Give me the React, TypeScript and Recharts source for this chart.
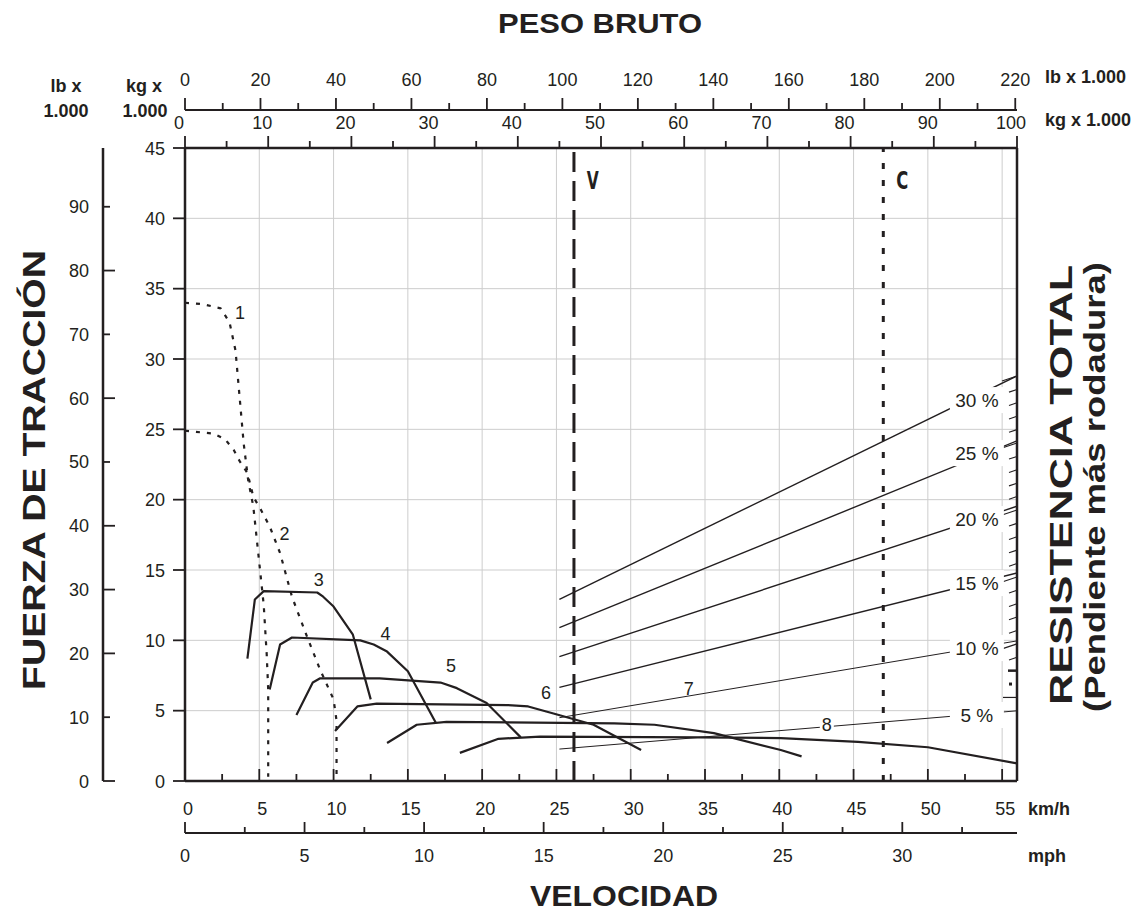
import { LineChart, Line, XAxis, YAxis, CartesianGrid, ReferenceLine, ReferenceDot } from "recharts";

const INK = "#231f20";
const FONT = "'Liberation Sans', Arial, Helvetica, sans-serif";
const NARROW = "'Liberation Sans Narrow', 'DejaVu Sans Condensed', sans-serif";

// speed v in km/h, rimpull f in kg x 1.000
const gear1 = [
  { v: 0, f: 34.0 }, { v: 1.2, f: 33.9 }, { v: 2.4, f: 33.6 }, { v: 3.0, f: 32.6 },
  { v: 3.4, f: 30.6 }, { v: 3.7, f: 27.0 }, { v: 3.95, f: 24.0 }, { v: 4.25, f: 21.4 },
  { v: 4.6, f: 19.5 }, { v: 5.0, f: 15.5 }, { v: 5.3, f: 12.5 }, { v: 5.5, f: 9.0 },
  { v: 5.6, f: 6.5 }, { v: 5.6, f: 0.3 },
];
const gear2 = [
  { v: 0, f: 24.9 }, { v: 1.9, f: 24.7 }, { v: 2.7, f: 24.3 }, { v: 3.3, f: 23.5 },
  { v: 3.7, f: 22.7 }, { v: 4.2, f: 21.9 }, { v: 4.6, f: 20.2 }, { v: 5.1, f: 19.3 },
  { v: 5.7, f: 18.1 }, { v: 6.4, f: 16.2 }, { v: 7.2, f: 13.1 }, { v: 8.2, f: 10.3 },
  { v: 9.1, f: 7.9 }, { v: 10.0, f: 5.8 }, { v: 10.2, f: 4.3 }, { v: 10.2, f: 0.2 },
];
const gear3 = [
  { v: 4.2, f: 8.7 }, { v: 4.7, f: 12.9 }, { v: 5.3, f: 13.5 }, { v: 8.9, f: 13.4 },
  { v: 9.3, f: 13.1 }, { v: 10.0, f: 12.4 }, { v: 11.3, f: 10.4 }, { v: 12.5, f: 5.8 },
];
const gear4 = [
  { v: 5.7, f: 6.5 }, { v: 6.4, f: 9.7 }, { v: 7.2, f: 10.2 }, { v: 11.8, f: 10.0 },
  { v: 12.7, f: 9.7 }, { v: 13.6, f: 9.2 }, { v: 15.0, f: 7.8 }, { v: 16.9, f: 4.1 },
];
const gear5 = [
  { v: 7.5, f: 4.7 }, { v: 8.6, f: 7.0 }, { v: 9.1, f: 7.3 }, { v: 13.1, f: 7.3 },
  { v: 17.2, f: 7.0 }, { v: 18.3, f: 6.6 }, { v: 20.3, f: 5.55 }, { v: 22.6, f: 3.1 },
];
const gear6 = [
  { v: 10.1, f: 3.55 }, { v: 11.6, f: 5.3 }, { v: 12.9, f: 5.5 }, { v: 21.7, f: 5.4 },
  { v: 23.1, f: 5.3 }, { v: 24.8, f: 4.8 }, { v: 27.5, f: 4.0 }, { v: 30.7, f: 2.2 },
];
const gear7 = [
  { v: 13.6, f: 2.7 }, { v: 15.6, f: 4.0 }, { v: 17.6, f: 4.2 }, { v: 28.9, f: 4.1 },
  { v: 31.6, f: 4.0 }, { v: 35.6, f: 3.4 }, { v: 40.1, f: 2.2 }, { v: 41.5, f: 1.75 },
];
const gear8 = [
  { v: 18.5, f: 2.0 }, { v: 21.1, f: 3.0 }, { v: 23.9, f: 3.15 }, { v: 34.7, f: 3.1 },
  { v: 40.1, f: 3.05 }, { v: 45.3, f: 2.78 }, { v: 50.0, f: 2.4 }, { v: 56, f: 1.25 },
];

const gearCurves = [
  { id: "1", data: gear1, dotted: true },
  { id: "2", data: gear2, dotted: true },
  { id: "3", data: gear3, dotted: false },
  { id: "4", data: gear4, dotted: false },
  { id: "5", data: gear5, dotted: false },
  { id: "6", data: gear6, dotted: false },
  { id: "7", data: gear7, dotted: false },
  { id: "8", data: gear8, dotted: false },
];

// gear number labels
const curveLabelText = ["1", "2", "3", "4", "5", "6", "7", "8"];
const curveLabelSpeed = [3.7, 6.7, 9.0, 13.5, 17.9, 24.3, 33.9, 43.2];
const curveLabelForce = [33.3, 17.6, 14.3, 10.5, 8.2, 6.3, 6.6, 4.05];

// total resistance (grade + rolling) lines
const grades = [5, 10, 15, 20, 25, 30];
const gradeSpeeds = [25.2, 56];
const gradeStart = [2.27, 4.5, 6.66, 8.84, 10.9, 12.91];
const gradeEnd = [4.99, 9.96, 14.79, 19.53, 24.18, 28.8];
const gradeLabelSpeed = 53.3;
const gradeLabelForce = [4.69, 9.45, 14.07, 18.62, 23.31, 27.08];

// V and C marks (km/h)
const markNames = ["V", "C"];
const markSpeeds = [26.18, 47.0];

// axis ranges and ticks
const kmhMax = 56;
const mphMax = 56 / 1.609344;
const kgMax = 100;
const lbMax = 100 * 2.20462;
const tonMax = 45;
const lbfMax = 45 * 2.20462;
const kmhTicks = [0, 2.5, 5, 7.5, 10, 12.5, 15, 17.5, 20, 22.5, 25, 27.5, 30, 32.5, 35, 37.5, 40, 42.5, 45, 47.5, 50, 52.5, 55];
const mphTicks = [0, 2.5, 5, 7.5, 10, 12.5, 15, 17.5, 20, 22.5, 25, 27.5, 30, 32.5];
const kgTicks = [0, 5, 10, 15, 20, 25, 30, 35, 40, 45, 50, 55, 60, 65, 70, 75, 80, 85, 90, 95, 100];
const lbTicks = [0, 10, 20, 30, 40, 50, 60, 70, 80, 90, 100, 110, 120, 130, 140, 150, 160, 170, 180, 190, 200, 210, 220];
const tonTicks = [0, 5, 10, 15, 20, 25, 30, 35, 40, 45];
const lbfTicks = [0, 10, 20, 30, 40, 50, 60, 70, 80, 90];
const gradeTicks = [6, 7, 8, 9, 10, 11, 12, 13, 14, 15, 16, 17, 18, 19, 20, 21, 22, 23, 24, 25, 26, 27, 28, 29, 30];
const gridSpeeds = [0, 5, 10, 15, 20, 25, 30, 35, 40, 45, 50, 55];

const resistanceLines = grades.map((g, i) => ({
  grade: g,
  data: [
    { v: gradeSpeeds[0], f: gradeStart[i] },
    { v: gradeSpeeds[1], f: gradeEnd[i] },
  ],
}));

// invisible spans so that every secondary axis carries data
const axisSpans = [
  { id: "xb", data: [{ v: 0, f: 0 }, { v: mphMax, f: 0 }] },
  { id: "xc", data: [{ v: 0, f: 0 }, { v: kgMax, f: 0 }] },
  { id: "xd", data: [{ v: 0, f: 0 }, { v: lbMax, f: 0 }] },
  { id: "xz", data: [{ v: 0, f: 0 }, { v: kmhMax, f: 0 }] },
];

const KmhTick = ({ x, y, payload }: any) => {
  const major = payload.value % 5 === 0;
  return (
    <g>
      <line x1={x} x2={x} y1={y} y2={y - (major ? 12 : 7)} stroke={INK} strokeWidth={1.8} />
      {major && (
        <text x={x + 3} y={y + 34} textAnchor="middle" fontSize={18} fill={INK}>{payload.value}</text>
      )}
    </g>
  );
};

const MphTick = ({ x, y, payload }: any) => {
  const major = payload.value % 5 === 0;
  return (
    <g>
      <line x1={x} x2={x} y1={y} y2={y - (major ? 11 : 6)} stroke={INK} strokeWidth={1.8} />
      {major && (
        <text x={x} y={y + 29} textAnchor="middle" fontSize={18} fill={INK}>{payload.value}</text>
      )}
    </g>
  );
};

const KgTick = ({ x, y, payload }: any) => {
  const major = payload.value % 10 === 0;
  return (
    <g>
      <line x1={x} x2={x} y1={y} y2={y - (major ? 12 : 7)} stroke={INK} strokeWidth={1.8} />
      {major && (
        <text x={x - 6} y={y - 19} textAnchor="middle" fontSize={18} fill={INK}>{payload.value}</text>
      )}
    </g>
  );
};

const LbTick = ({ x, y, payload }: any) => {
  const major = payload.value % 20 === 0;
  return (
    <g>
      <line x1={x} x2={x} y1={y} y2={y - (major ? 12 : 7)} stroke={INK} strokeWidth={1.8} />
      {major && (
        <text x={x} y={y - 24} textAnchor="middle" fontSize={18} fill={INK}>{payload.value}</text>
      )}
    </g>
  );
};

const TonTick = ({ x, y, payload }: any) => (
  <g>
    <line x1={x} x2={x - 12} y1={y} y2={y} stroke={INK} strokeWidth={1.8} />
    <text x={x - 20} y={y + 6.5} textAnchor="end" fontSize={18} fill={INK}>{payload.value}</text>
  </g>
);

const LbfTick = ({ x, y, payload }: any) => {
  const long = [0, 20, 30, 40, 60, 80].includes(payload.value);
  return (
    <g>
      <line x1={x} x2={x + (long ? 12 : 7)} y1={y} y2={y} stroke={INK} strokeWidth={1.8} />
      <text x={x - 14} y={y + 6.5} textAnchor="end" fontSize={18} fill={INK}>{payload.value}</text>
    </g>
  );
};

const GradeTick = ({ x, y, payload }: any) => {
  const p = payload.value;
  if (p === 6) return <line x1={x - 14} x2={x} y1={y} y2={y} stroke={INK} strokeWidth={1.2} />;
  if (p === 7) return <rect x={x - 8} y={y - 1.5} width={3} height={3} fill={INK} />;
  if (p === 8) return <line x1={x - 9} x2={x} y1={y} y2={y} stroke={INK} strokeWidth={2.5} />;
  const long = p % 5 === 0;
  return (
    <line x1={x - (long ? 15 : 8)} x2={x} y1={y + (long ? 5 : 2.7)} y2={y} stroke={INK} strokeWidth={1.1} />
  );
};

const axisCommon = { tickLine: false, tickSize: 0, tickMargin: 0, interval: 0 as const, allowDataOverflow: true };

export default function App() {
  return (
    <div style={{ position: "absolute", left: 0, top: 0, width: 1137, height: 919, background: "#fff", fontFamily: FONT }}>
      <LineChart width={1137} height={919} margin={{ top: 50, right: 60, bottom: 26, left: 43 }}>
        {/* bottom: km/h next to the plot, mph below */}
        <XAxis xAxisId="xa" type="number" dataKey="v" domain={[0, kmhMax]} ticks={kmhTicks} height={52}
          axisLine={{ stroke: INK, strokeWidth: 2.5 }} tick={(p: any) => <KmhTick {...p} />} {...axisCommon} />
        <XAxis xAxisId="xb" type="number" dataKey="v" domain={[0, mphMax]} ticks={mphTicks} height={60}
          axisLine={{ stroke: INK, strokeWidth: 2 }} tick={(p: any) => <MphTick {...p} />} {...axisCommon} />
        {/* top: kg next to the plot, lb above */}
        <XAxis xAxisId="xc" orientation="top" type="number" dataKey="v" domain={[0, kgMax]} ticks={kgTicks} height={38}
          axisLine={{ stroke: INK, strokeWidth: 2.5 }} tick={(p: any) => <KgTick {...p} />} {...axisCommon} />
        <XAxis xAxisId="xd" orientation="top" type="number" dataKey="v" domain={[0, lbMax]} ticks={lbTicks} height={60}
          axisLine={{ stroke: INK, strokeWidth: 2 }} tick={(p: any) => <LbTick {...p} />} {...axisCommon} />
        <XAxis xAxisId="xz" type="number" dataKey="v" domain={[0, kmhMax]} ticks={gridSpeeds} height={0} hide allowDataOverflow />

        {/* left: kg x 1.000 next to the plot, lb x 1.000 outside */}
        <YAxis yAxisId="ya" type="number" domain={[0, tonMax]} ticks={tonTicks} width={82}
          axisLine={{ stroke: INK, strokeWidth: 2.5 }} tick={(p: any) => <TonTick {...p} />} {...axisCommon} />
        <YAxis yAxisId="yb" type="number" domain={[0, lbfMax]} ticks={lbfTicks} width={60}
          axisLine={{ stroke: INK, strokeWidth: 2.5 }} tick={(p: any) => <LbfTick {...p} />} {...axisCommon} />
        <YAxis yAxisId="yc" orientation="right" type="number" domain={[-0.24, 47.03]} ticks={gradeTicks} width={60}
          axisLine={{ stroke: INK, strokeWidth: 2.5 }} tick={(p: any) => <GradeTick {...p} />} {...axisCommon} />

        <CartesianGrid xAxisId="xz" yAxisId="ya" stroke="#cdcdcd" strokeWidth={1} />

        {axisSpans.map((s) => (
          <Line key={"s" + s.id} data={s.data} xAxisId={s.id} yAxisId="ya" dataKey="f" stroke="none"
            dot={false} activeDot={false} isAnimationActive={false} />
        ))}

        {resistanceLines.map((r) => (
          <Line key={"g" + r.grade} data={r.data} xAxisId="xa" yAxisId="ya" dataKey="f" type="linear"
            stroke={INK} strokeWidth={r.grade <= 10 ? 1 : 1.4} dot={false} activeDot={false} isAnimationActive={false} />
        ))}

        {gearCurves.map((c) => (
          <Line key={"c" + c.id} data={c.data} xAxisId="xa" yAxisId="ya" dataKey="f" type="linear"
            stroke={INK} strokeWidth={2.2} strokeDasharray={c.dotted ? "4 7" : undefined}
            strokeLinejoin="round" dot={false} activeDot={false} isAnimationActive={false} />
        ))}

        {markSpeeds.map((s, i) => (
          <ReferenceLine key={"m" + i} x={s} xAxisId="xa" yAxisId="ya" stroke={INK} strokeWidth={3}
            strokeDasharray={i === 0 ? "20 9" : "6 11"} />
        ))}

        {markNames.map((n, i) => (
          <ReferenceDot key={"mn" + i} x={markSpeeds[i] + 1.27} y={42.75} xAxisId="xa" yAxisId="ya" r={0} zIndex={2500}
            shape={(p: any) => (
              <text x={p.cx - 6} y={p.cy + 9} fontSize={25} fontWeight="bold" fontFamily={NARROW} fill={INK}
                textLength={12} lengthAdjust="spacingAndGlyphs">{n}</text>
            )} />
        ))}

        {curveLabelText.map((t, i) => (
          <ReferenceDot key={"cl" + i} x={curveLabelSpeed[i]} y={curveLabelForce[i]} xAxisId="xa" yAxisId="ya" r={0} zIndex={2500}
            shape={(p: any) => (
              <g>
                {t === "8" && <rect x={p.cx - 7} y={p.cy - 10} width={14} height={20} fill="#fff" />}
                <text x={p.cx} y={p.cy + 6.5} textAnchor="middle" fontSize={18} fill={INK}>{t}</text>
              </g>
            )} />
        ))}

        {grades.map((g, i) => (
          <ReferenceDot key={"gl" + g} x={gradeLabelSpeed} y={gradeLabelForce[i]} xAxisId="xa" yAxisId="ya" r={0} zIndex={2500}
            shape={(p: any) => (
              <g>
                <rect x={p.cx - 27} y={p.cy - 13} width={54} height={26} fill="#fff" />
                <text x={p.cx} y={p.cy + 7} textAnchor="middle" fontSize={19} fill={INK}>{g + " %"}</text>
              </g>
            )} />
        ))}
      </LineChart>

      <svg width={1137} height={919} style={{ position: "absolute", left: 0, top: 0, pointerEvents: "none" }}>
        <g fill={INK} fontFamily={FONT} fontWeight="bold">
          <text x={600} y={33} textAnchor="middle" fontSize={28} textLength={204} lengthAdjust="spacingAndGlyphs">PESO BRUTO</text>
          <text x={624} y={906} textAnchor="middle" fontSize={30} textLength={188} lengthAdjust="spacingAndGlyphs">VELOCIDAD</text>
          <text x={66} y={92} textAnchor="middle" fontSize={18}>lb x</text>
          <text x={66} y={117} textAnchor="middle" fontSize={18}>1.000</text>
          <text x={144} y={92} textAnchor="middle" fontSize={18}>kg x</text>
          <text x={145} y={117} textAnchor="middle" fontSize={18}>1.000</text>
          <text x={1045} y={83} fontSize={18}>lb x 1.000</text>
          <text x={1045} y={126} fontSize={18}>kg x 1.000</text>
          <text x={1028} y={815} fontSize={18}>km/h</text>
          <text x={1028} y={862} fontSize={18}>mph</text>
          <text transform="translate(45,470) rotate(-90)" textAnchor="middle" fontSize={32} textLength={440} lengthAdjust="spacingAndGlyphs">FUERZA DE TRACCIÓN</text>
          <text transform="translate(1072,485) rotate(-90)" textAnchor="middle" fontSize={32} textLength={440} lengthAdjust="spacingAndGlyphs">RESISTENCIA TOTAL</text>
          <text transform="translate(1105,487) rotate(-90)" textAnchor="middle" fontSize={29} textLength={450} lengthAdjust="spacingAndGlyphs">(Pendiente más rodadura)</text>
        </g>
      </svg>
    </div>
  );
}
